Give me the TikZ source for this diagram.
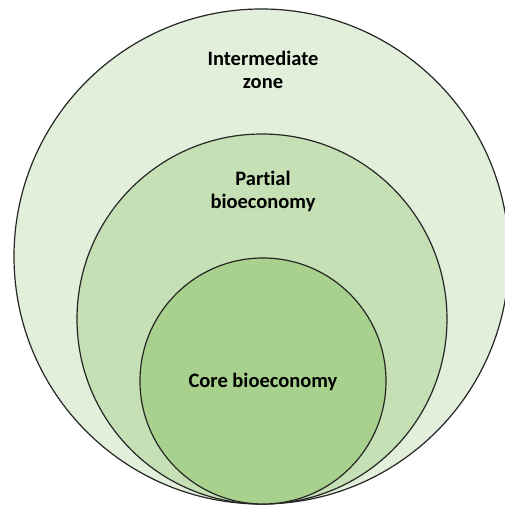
\documentclass[tikz,border=0pt]{standalone}
\usepackage{fontspec}
\setmainfont{Carlito}[Ligatures=NoCommon]
\definecolor{verdeA}{HTML}{E2EFDA}
\definecolor{verdeB}{HTML}{C5E0B4}
\definecolor{verdeC}{HTML}{A9D18E}
\begin{document}
\begin{tikzpicture}[x=1pt, y=1pt,
  anillo/.style={circle, draw=black!85, line width=1.2pt, inner sep=0pt},
  rotulo/.style={font=\fontsize{20.5}{23}\selectfont\bfseries, align=center}]

  \useasboundingbox (0,0) rectangle (505,506);

  % --- Circulos anidados, tangentes abajo ---
  \node[anillo, fill=verdeA, minimum size=495pt] (zona)    at (261.5,249.5) {};
  \node[anillo, fill=verdeB, minimum size=370pt] (parcial) at (262,187) {};
  \node[anillo, fill=verdeC, minimum size=246pt] (nucleo)  at (263,125) {};

  % --- Rotulos ---
  \node[rotulo] (tzona)    at (263,436) {Intermediate\\zone};
  \node[rotulo] (tparcial) at (263,315) {Partial\\bioeconomy};
  \node[rotulo] (tnucleo)  at (263,124) {Core bioeconomy};

\end{tikzpicture}
\end{document}
